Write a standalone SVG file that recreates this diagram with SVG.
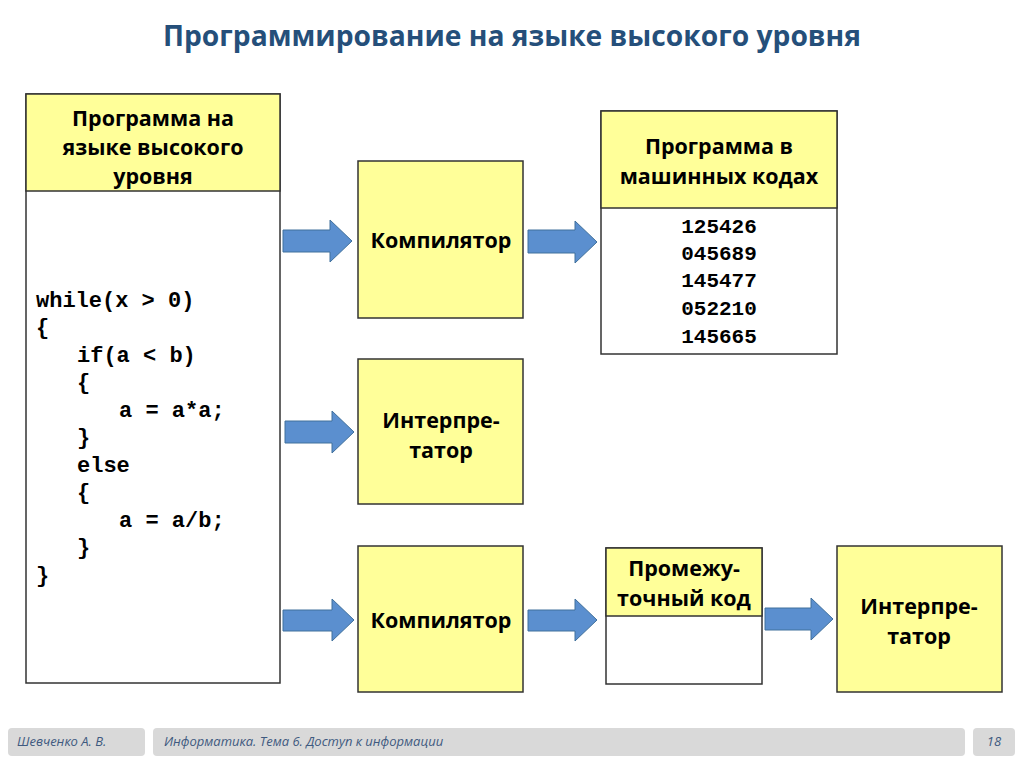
<svg xmlns="http://www.w3.org/2000/svg" width="1024" height="767" viewBox="0 0 1024 767">
<style>
.box{stroke:#333;stroke-width:1.5}
.yel{fill:#FFFF99}
.wht{fill:#fff}
.lbl{font-family:"Open Sans","Liberation Sans",sans-serif;font-weight:bold;font-size:21.5px;fill:#000;text-anchor:middle}
.code{font-family:"Liberation Mono","DejaVu Sans Mono",monospace;font-weight:bold;font-size:22px;fill:#000}
.num{font-family:"Liberation Mono","DejaVu Sans Mono",monospace;font-weight:bold;font-size:21px;fill:#000;text-anchor:middle}
.arr{fill:#5B8FCF;stroke:#41719C;stroke-width:1}
.foot{fill:#D9D9D9}
.ft{font-family:"Open Sans","Liberation Sans",sans-serif;font-style:italic;font-size:13px;fill:#3F5A80}
</style>
<rect x="0" y="0" width="1024" height="767" fill="#fff"/>
<text x="512" y="46" text-anchor="middle" font-family="Open Sans, Liberation Sans, sans-serif" font-weight="bold" font-size="28" fill="#254F7A" textLength="698" lengthAdjust="spacingAndGlyphs">Программирование на языке высокого уровня</text>

<g id="hll">
<rect class="box wht" x="26" y="94" width="254" height="589"/>
<rect class="box yel" x="26" y="94" width="254" height="97"/>
<text class="lbl"><tspan x="153" y="126">Программа на</tspan><tspan x="153" y="155">языке высокого</tspan><tspan x="153" y="184">уровня</tspan></text>
<g class="code">
<text x="36" y="307">while(x &gt; 0)</text>
<text x="36" y="334">{</text>
<text x="77" y="362">if(a &lt; b)</text>
<text x="77" y="389">{</text>
<text x="119" y="417">a = a*a;</text>
<text x="77" y="444">}</text>
<text x="77" y="472">else</text>
<text x="77" y="499">{</text>
<text x="119" y="527">a = a/b;</text>
<text x="77" y="554">}</text>
<text x="36" y="582">}</text>
</g>
</g>

<g id="compiler1">
<rect class="box yel" x="358" y="161" width="165" height="157"/>
<text class="lbl" x="441" y="248">Компилятор</text>
</g>

<g id="machine">
<rect class="box wht" x="601" y="111" width="236" height="243"/>
<rect class="box yel" x="601" y="111" width="236" height="97"/>
<text class="lbl"><tspan x="719" y="154">Программа в</tspan><tspan x="719" y="184">машинных кодах</tspan></text>
<text class="num"><tspan x="719" y="233">125426</tspan><tspan x="719" y="260">045689</tspan><tspan x="719" y="287">145477</tspan><tspan x="719" y="315">052210</tspan><tspan x="719" y="343">145665</tspan></text>
</g>

<g id="interp1">
<rect class="box yel" x="358" y="359" width="165" height="145"/>
<text class="lbl"><tspan x="441" y="428">Интерпре-</tspan><tspan x="441" y="458">татор</tspan></text>
</g>

<g id="compiler2">
<rect class="box yel" x="358" y="546" width="165" height="146"/>
<text class="lbl" x="441" y="628">Компилятор</text>
</g>

<g id="intermediate">
<rect class="box wht" x="606" y="548" width="156" height="136"/>
<rect class="box yel" x="606" y="548" width="156" height="68"/>
<text class="lbl"><tspan x="684" y="576">Промежу-</tspan><tspan x="684" y="606">точный код</tspan></text>
</g>

<g id="interp2">
<rect class="box yel" x="837" y="546" width="165" height="146"/>
<text class="lbl"><tspan x="919" y="614">Интерпре-</tspan><tspan x="919" y="644">татор</tspan></text>
</g>

<g id="connectors">
<polygon class="arr" points="283,230 330,230 330,220 352,241 330,262 330,252 283,252"/>
<polygon class="arr" points="528,230 575,230 575,221 597,242 575,263 575,253 528,253"/>
<polygon class="arr" points="285,421 332,421 332,411 354,432 332,453 332,443 285,443"/>
<polygon class="arr" points="283,610 332,610 332,599 354,620 332,641 332,631 283,631"/>
<polygon class="arr" points="528,610 575,610 575,599 597,620 575,641 575,631 528,631"/>
<polygon class="arr" points="765,608 811,608 811,598 833,619 811,640 811,630 765,630"/>
</g>

<g id="footer">
<rect class="foot" x="8" y="728" width="137" height="28" rx="4"/>
<rect class="foot" x="153" y="728" width="812" height="28" rx="4"/>
<rect class="foot" x="973" y="728" width="42" height="28" rx="4"/>
<text class="ft" x="17" y="746">Шевченко А. В.</text>
<text class="ft" x="164" y="746">Информатика. Тема 6. Доступ к информации</text>
<text class="ft" x="994" y="746" text-anchor="middle" font-style="normal">18</text>
</g>
</svg>
